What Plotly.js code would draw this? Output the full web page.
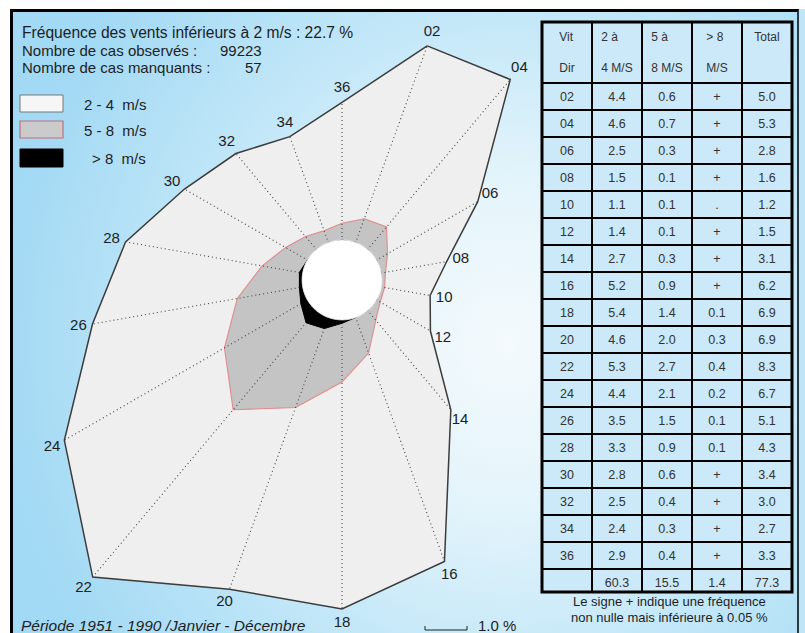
<!DOCTYPE html>
<html>
<head>
<meta charset="utf-8">
<script src="https://cdn.plot.ly/plotly-3.0.1.min.js"></script>
<style>
  html, body { margin:0; padding:0; width:805px; height:633px; overflow:hidden; background:#ffffff; }
  #frame { position:absolute; left:10px; top:9px; width:789px; height:640px; box-sizing:border-box;
    border-left:3px solid #000; border-top:3px solid #000; border-right:2px solid #2a3a44;
    background: radial-gradient(ellipse 65% 85% at 63% 52%, #f4fafd 0%, #e4f4fb 30%, #c2e7f8 62%, #a2d9f4 100%); }
  #strip { position:absolute; left:799px; top:9px; width:6px; height:624px; background:#bfe5f7; }
  #rose { position:absolute; left:-158px; top:-220px; width:1000px; height:1000px; }
  #over { position:absolute; left:0; top:0; width:805px; height:633px; }
</style>
</head>
<body>
<div id="frame"></div>
<div id="strip"></div>
<div id="rose"></div>
<div id="over"></div>
<script>
// ---- data ----
const dirs    = ['02','04','06','08','10','12','14','16','18','20','22','24','26','28','30','32','34','36'];
const f2to4   = [4.4,4.6,2.5,1.5,1.1,1.4,2.7,5.2,5.4,4.6,5.3,4.4,3.5,3.3,2.8,2.5,2.4,2.9];
const f5to8   = [0.6,0.7,0.3,0.1,0.1,0.1,0.3,0.9,1.4,2.0,2.7,2.1,1.5,0.9,0.6,0.4,0.3,0.4];
const fgt8Txt = ['+','+','+','+','.','+','+','+','0.1','0.3','0.4','0.2','0.1','0.1','+','+','+','+'];
const fgt8    = [0.02,0.02,0.02,0.02,0,0.02,0.02,0.02,0.1,0.3,0.4,0.2,0.1,0.1,0.02,0.02,0.02,0.02];
const totals  = [5.0,5.3,2.8,1.6,1.2,1.5,3.1,6.2,6.9,6.9,8.3,6.7,5.1,4.3,3.4,3.0,2.7,3.3];
const colTotals = ['60.3','15.5','1.4','77.3'];
const headerLabels = ['Vit<br> <br>Dir','2 à<br> <br>4 M/S','5 à<br> <br>8 M/S','> 8<br> <br>M/S','Total<br> <br> '];

const FONT = 'Liberation Sans, Arial, sans-serif';
const OFF = 0.93;       // radial offset (central calm circle)
const CIRCLE = 0.95;    // calm circle radius in axis units
const LABEL_PAD = 0.34;
const RMAX = 11.9;

const theta = dirs.map(d => parseInt(d, 10) * 10);
const close = a => a.concat([a[0]]);

const rOuter = totals.map(v => OFF + v);
const rMid   = f5to8.map((v, i) => OFF + v + fgt8[i]);
const rHigh  = fgt8.map(v => OFF + v);

const spokeR = [], spokeT = [];
totals.forEach((v, i) => { spokeR.push(OFF, OFF + v, null); spokeT.push(theta[i], theta[i], null); });

const circT = [], circR = [];
for (let a = 0; a <= 360; a += 4) { circT.push(a); circR.push(CIRCLE); }

const roseTraces = [
  { type:'scatterpolar', r: close(rOuter), theta: close(theta), mode:'lines', fill:'toself',
    fillcolor:'#efefef', line:{color:'#3c3c3c', width:1.5}, hoverinfo:'skip' },
  { type:'scatterpolar', r: close(rMid), theta: close(theta), mode:'lines', fill:'toself',
    fillcolor:'#c4c4c4', line:{color:'#e08a8a', width:1.1}, hoverinfo:'skip' },
  { type:'scatterpolar', r: spokeR, theta: spokeT, mode:'lines', connectgaps:false,
    line:{color:'#444', width:1.1, dash:'1px,3px'}, hoverinfo:'skip' },
  { type:'scatterpolar', r: close(rHigh), theta: close(theta), mode:'lines', fill:'toself',
    fillcolor:'#000', line:{color:'#000', width:1}, hoverinfo:'skip' },
  { type:'scatterpolar', r: circR, theta: circT, mode:'lines', fill:'toself',
    fillcolor:'#ffffff', line:{color:'#f4f4f4', width:0.8}, hoverinfo:'skip' },
  { type:'scatterpolar', r: totals.map(v => OFF + v + LABEL_PAD), theta: theta, mode:'text',
    text: dirs, textfont:{family:FONT, size:15, color:'#1e1e1e'}, hoverinfo:'skip' }
];

Plotly.newPlot('rose', roseTraces, {
  width:1000, height:1000, margin:{l:0,r:0,t:0,b:0},
  paper_bgcolor:'rgba(0,0,0,0)', showlegend:false,
  polar:{ domain:{x:[0,1], y:[0,1]}, bgcolor:'rgba(0,0,0,0)',
    radialaxis:{visible:false, range:[0,RMAX]},
    angularaxis:{visible:false, rotation:90, direction:'clockwise'} }
}, {staticPlot:true});

// ---- overlay: texts, legend, table ----
const W = 805, H = 633;
const px = x => x / W, py = y => 1 - y / H;
const ann = (x, y, text, opt) => Object.assign({ xref:'paper', yref:'paper', x:px(x), y:py(y), text:text,
  showarrow:false, xanchor:'left', yanchor:'middle', font:{family:FONT, size:15, color:'#1e1e1e'} }, opt || {});

const annotations = [
  ann(20, 32, 'Fréquence des vents inférieurs à 2 m/s : 22.7 %', {font:{family:FONT, size:15.6, color:'#1e1e1e'}}),
  ann(20, 50, 'Nombre de cas observés :'),
  ann(264, 50, '99223', {xanchor:'right'}),
  ann(20, 67, 'Nombre de cas manquants :'),
  ann(264, 67, '57', {xanchor:'right'}),
  ann(82, 104, '2 - 4\u00a0\u00a0m/s'),
  ann(82, 130, '5 - 8\u00a0\u00a0m/s'),
  ann(90, 158, '> 8\u00a0\u00a0m/s'),
  ann(19, 625, '<i>Période 1951 - 1990 /Janvier - Décembre</i>', {font:{family:FONT, size:15.5, color:'#1e1e1e'}}),
  ann(476, 625, '1.0 %'),
  ann(669, 601, 'Le signe + indique une fréquence', {xanchor:'center', font:{family:FONT, size:13, color:'#1e1e1e'}}),
  ann(669, 617, 'non nulle mais inférieure à 0.05 %', {xanchor:'center', font:{family:FONT, size:13, color:'#1e1e1e'}})
];

const rect = (x0, y0, x1, y1, fill, line, lw) => ({ type:'rect', xref:'paper', yref:'paper',
  x0:px(x0), x1:px(x1), y0:py(y0), y1:py(y1), fillcolor:fill, line:{color:line, width:lw} });

const shapes = [
  rect(20, 95, 63, 112, '#f6f6f6', '#777', 1),
  rect(20, 121, 63, 138, '#cbcbcb', '#c0707a', 1.2),
  rect(20, 149, 63, 167, '#000', '#000', 1),
  { type:'path', xref:'paper', yref:'paper',
    path:`M${px(425)},${py(626)} L${px(425)},${py(630)} L${px(467)},${py(630)} L${px(467)},${py(626)}`,
    line:{color:'#222', width:1} },
  rect(542, 22, 792, 592, 'rgba(0,0,0,0)', '#000', 3)
];

const cellCols = [
  dirs.concat(['']),
  f2to4.map(v => v.toFixed(1)).concat([colTotals[0]]),
  f5to8.map(v => v.toFixed(1)).concat([colTotals[1]]),
  fgt8Txt.concat([colTotals[2]]),
  totals.map(v => v.toFixed(1)).concat([colTotals[3]])
];

const table = {
  type:'table', domain:{x:[px(542), px(792)], y:[py(592), py(22)]},
  columnwidth:[1,1,1,1,1],
  header:{ values: headerLabels, height:55, align:'center',
    fill:{color:'#cbe9f8'}, line:{color:'#000', width:2},
    font:{family:FONT, size:12, color:'#333'} },
  cells:{ values: cellCols, height:27, align:'center',
    fill:{color:'#cbe9f8'}, line:{color:'#000', width:2},
    font:{family:FONT, size:12.5, color:'#333'} }
};

Plotly.newPlot('over', [table], {
  width:W, height:H, margin:{l:0,r:0,t:0,b:0},
  paper_bgcolor:'rgba(0,0,0,0)', plot_bgcolor:'rgba(0,0,0,0)',
  annotations: annotations, shapes: shapes, showlegend:false
}, {staticPlot:true});
</script>
</body>
</html>
